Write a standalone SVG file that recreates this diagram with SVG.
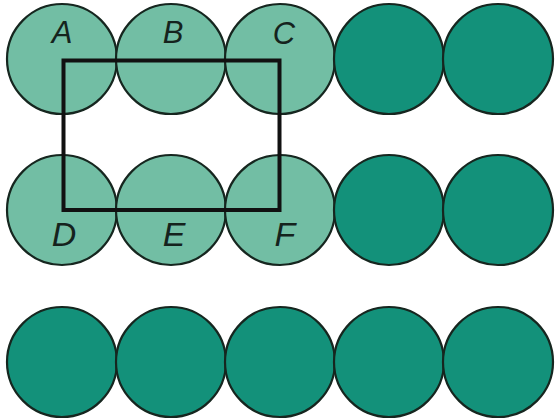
<svg xmlns="http://www.w3.org/2000/svg" width="556" height="419" viewBox="0 0 556 419">
  <style>
    .disc { stroke: #16261f; stroke-width: 2.2; }
    .light { fill: #72bea4; }
    .dark { fill: #13917a; }
    .lbl { font-family: "Liberation Sans", Arial, sans-serif; font-style: italic; fill: #15231d; text-anchor: middle; }
    .top { font-size: 31px; }
    .bot { font-size: 34px; }
    .frame { fill: none; stroke: #111; stroke-width: 4; }
  </style>
  <rect width="556" height="419" fill="#ffffff"/>

  <!-- row 1 -->
  <g id="nA"><circle class="disc light" cx="62" cy="59" r="55"/><text class="lbl top" x="62" y="43">A</text></g>
  <g id="nB"><circle class="disc light" cx="171" cy="59" r="55"/><text class="lbl top" x="173" y="43">B</text></g>
  <g id="nC"><circle class="disc light" cx="280" cy="59" r="55"/><text class="lbl top" x="284" y="44">C</text></g>
  <g id="r1c4"><circle class="disc dark" cx="389" cy="59" r="55"/></g>
  <g id="r1c5"><circle class="disc dark" cx="498" cy="59" r="55"/></g>

  <!-- row 2 -->
  <g id="nD"><circle class="disc light" cx="62" cy="210" r="55"/><text class="lbl bot" x="64" y="246">D</text></g>
  <g id="nE"><circle class="disc light" cx="171" cy="210" r="55"/><text class="lbl bot" x="174" y="246">E</text></g>
  <g id="nF"><circle class="disc light" cx="280" cy="210" r="55"/><text class="lbl bot" x="285" y="246">F</text></g>
  <g id="r2c4"><circle class="disc dark" cx="389" cy="210" r="55"/></g>
  <g id="r2c5"><circle class="disc dark" cx="498" cy="210" r="55"/></g>

  <!-- row 3 -->
  <g id="r3c1"><circle class="disc dark" cx="62" cy="362" r="55"/></g>
  <g id="r3c2"><circle class="disc dark" cx="171" cy="362" r="55"/></g>
  <g id="r3c3"><circle class="disc dark" cx="280" cy="362" r="55"/></g>
  <g id="r3c4"><circle class="disc dark" cx="389" cy="362" r="55"/></g>
  <g id="r3c5"><circle class="disc dark" cx="498" cy="362" r="55"/></g>

  <!-- unit cell outline through the centres of A, C, F, D -->
  <g id="connectors">
    <rect class="frame" x="63.5" y="60.5" width="216" height="149.5"/>
  </g>
</svg>
